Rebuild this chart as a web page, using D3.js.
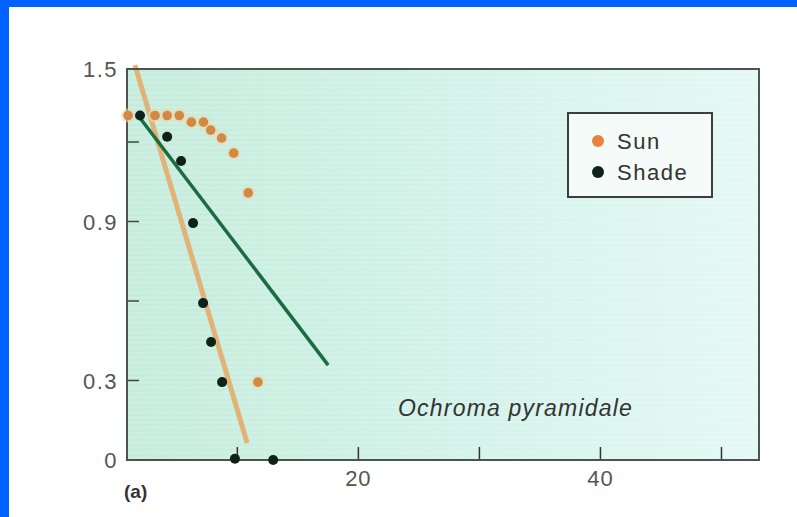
<!DOCTYPE html>
<html>
<head>
<meta charset="utf-8">
<script src="https://cdn.jsdelivr.net/npm/d3@7"></script>
<style>
  body { margin: 0; background: #fff; }
  svg { display: block; }
</style>
</head>
<body>
<div id="chart"></div>
<script>
const w = 797;
const h = 517;

// sun leaves (orange)
const sunX = [0.97, 3.2, 4.2, 5.2, 6.2, 7.2, 7.8, 8.7, 9.7, 10.9, 11.7];
const sunY = [1.30, 1.30, 1.30, 1.30, 1.275, 1.275, 1.245, 1.215, 1.158, 1.008, 0.294];

// shade leaves (dark)
const shadeX = [1.96, 4.2, 5.35, 6.34, 7.17, 7.83, 8.74, 9.8, 12.96];
const shadeY = [1.30, 1.22, 1.128, 0.894, 0.592, 0.445, 0.294, 0.005, 0.0];

// fitted lines, [start, end]
const sunLineX = [1.54, 10.81];
const sunLineY = [1.49, 0.064];
const shadeLineX = [1.8, 17.5];
const shadeLineY = [1.30, 0.358];

const xTicks = [10, 20, 30, 40, 50];
const xLabels = [20, 40];
const yTicks = [0.3, 0.6, 0.9, 1.2];
const yLabels = [0, 0.3, 0.9, 1.5];

const pLeft = 127, pRight = 759, pTop = 69, pBottom = 460;
const font = "Liberation Sans, Arial, sans-serif";

var x = d3.scaleLinear().domain([0.8, 53.1]).range([126, 759]);
var y = d3.scaleLinear().domain([0, 1.5]).range([460, 62.5]);

var svg = d3.select("#chart")
    .append("svg")
    .attr("width", w)
    .attr("height", h)

// blue frame of the slide
svg.append("rect").attr("x", 0).attr("y", 0).attr("width", w).attr("height", 7).attr("fill", "#0062ff");
svg.append("rect").attr("x", 0).attr("y", 0).attr("width", 9).attr("height", h).attr("fill", "#0062ff");

var defs = svg.append("defs");
var grad = defs.append("linearGradient").attr("id", "bg").attr("x1", 0).attr("x2", 1).attr("y1", 0).attr("y2", 0);
grad.append("stop").attr("offset", "0%").attr("stop-color", "#c5ecdc");
grad.append("stop").attr("offset", "55%").attr("stop-color", "#d4f3ea");
grad.append("stop").attr("offset", "100%").attr("stop-color", "#e4f8f5");

var pat = defs.append("pattern").attr("id", "stripes").attr("width", 6).attr("height", 5)
    .attr("patternUnits", "userSpaceOnUse");
pat.append("line").attr("x1", 0).attr("y1", 2).attr("x2", 6).attr("y2", 3)
    .attr("stroke", "#ffffff").attr("stroke-opacity", 0.25).attr("stroke-width", 1);

// plot background
svg.append("rect")
    .attr("x", pLeft).attr("y", pTop)
    .attr("width", pRight - pLeft).attr("height", pBottom - pTop)
    .attr("fill", "url(#bg)");
svg.append("rect")
    .attr("x", pLeft).attr("y", pTop)
    .attr("width", pRight - pLeft).attr("height", pBottom - pTop)
    .attr("fill", "url(#stripes)");

// fitted lines
svg.append("line")
    .attr("x1", x(sunLineX[0])).attr("y1", y(sunLineY[0]))
    .attr("x2", x(sunLineX[1])).attr("y2", y(sunLineY[1]))
    .attr("stroke", "#e2b277").attr("stroke-width", 5);

svg.append("line")
    .attr("x1", x(shadeLineX[0])).attr("y1", y(shadeLineY[0]))
    .attr("x2", x(shadeLineX[1])).attr("y2", y(shadeLineY[1]))
    .attr("stroke", "#1d6b42").attr("stroke-width", 3.5);

// ticks inside the frame
svg.append("g").selectAll("line")
    .data(xTicks)
    .enter().append("line")
    .attr("x1", d => x(d)).attr("x2", d => x(d))
    .attr("y1", pBottom).attr("y2", pBottom - 13)
    .attr("stroke", "#333").attr("stroke-width", 1.5);

svg.append("g").selectAll("line")
    .data(yTicks)
    .enter().append("line")
    .attr("x1", pLeft).attr("x2", pLeft + 12)
    .attr("y1", d => y(d)).attr("y2", d => y(d))
    .attr("stroke", "#3a4a40").attr("stroke-width", 1.5);

// frame
svg.append("rect")
    .attr("x", pLeft).attr("y", pTop)
    .attr("width", pRight - pLeft).attr("height", pBottom - pTop)
    .attr("fill", "none").attr("stroke", "#4a5550").attr("stroke-width", 2);

// points
var pts = svg.append("g");
pts.selectAll(".halo")
    .data(sunX)
    .enter().append("circle")
    .attr("cx", d => x(d)).attr("cy", (d, i) => y(sunY[i]))
    .attr("r", 7).attr("fill", "#f2d7b0").attr("opacity", 0.6);
pts.selectAll(".sun")
    .data(sunX)
    .enter().append("circle")
    .attr("cx", d => x(d)).attr("cy", (d, i) => y(sunY[i]))
    .attr("r", 4.8).attr("fill", "#d08a44");
pts.selectAll(".shade")
    .data(shadeX)
    .enter().append("circle")
    .attr("cx", d => x(d)).attr("cy", (d, i) => y(shadeY[i]))
    .attr("r", 5).attr("fill", "#0f2219");

// axis labels
svg.append("g").selectAll("text")
    .data(xLabels)
    .enter().append("text")
    .attr("x", d => x(d)).attr("y", 486)
    .attr("text-anchor", "middle")
    .attr("font-family", font).attr("letter-spacing", 1)
    .attr("font-size", 22).attr("fill", "#555")
    .text(d => d);

svg.append("g").selectAll("text")
    .data(yLabels)
    .enter().append("text")
    .attr("x", 118).attr("y", d => d === 1.5 ? pTop + 8 : y(d) + 8)
    .attr("text-anchor", "end")
    .attr("font-family", font).attr("letter-spacing", 1.5)
    .attr("font-size", 22).attr("fill", "#555")
    .text(d => d);

svg.append("text")
    .attr("x", 124).attr("y", 498)
    .attr("font-family", font)
    .attr("font-size", 19).attr("font-weight", "bold").attr("fill", "#333")
    .text("(a)");

svg.append("text")
    .attr("x", 398).attr("y", 416)
    .attr("font-family", font).attr("letter-spacing", 1.2)
    .attr("font-size", 23).attr("font-style", "italic").attr("fill", "#333")
    .text("Ochroma pyramidale");

// legend
var lg = svg.append("g");
lg.append("rect")
    .attr("x", 568).attr("y", 113).attr("width", 144).attr("height", 84)
    .attr("fill", "#f4fbf8").attr("stroke", "#3d3d3d").attr("stroke-width", 2);
var items = [["Sun", "#e8823c"], ["Shade", "#0f2219"]];
lg.selectAll("circle")
    .data(items)
    .enter().append("circle")
    .attr("cx", 598).attr("cy", (d, i) => 141 + i * 31)
    .attr("r", 6).attr("fill", d => d[1]);
lg.selectAll("text")
    .data(items)
    .enter().append("text")
    .attr("x", 617).attr("y", (d, i) => 149 + i * 31)
    .attr("font-family", font).attr("letter-spacing", 1.5)
    .attr("font-size", 22).attr("fill", "#333")
    .text(d => d[0]);
</script>
</body>
</html>
